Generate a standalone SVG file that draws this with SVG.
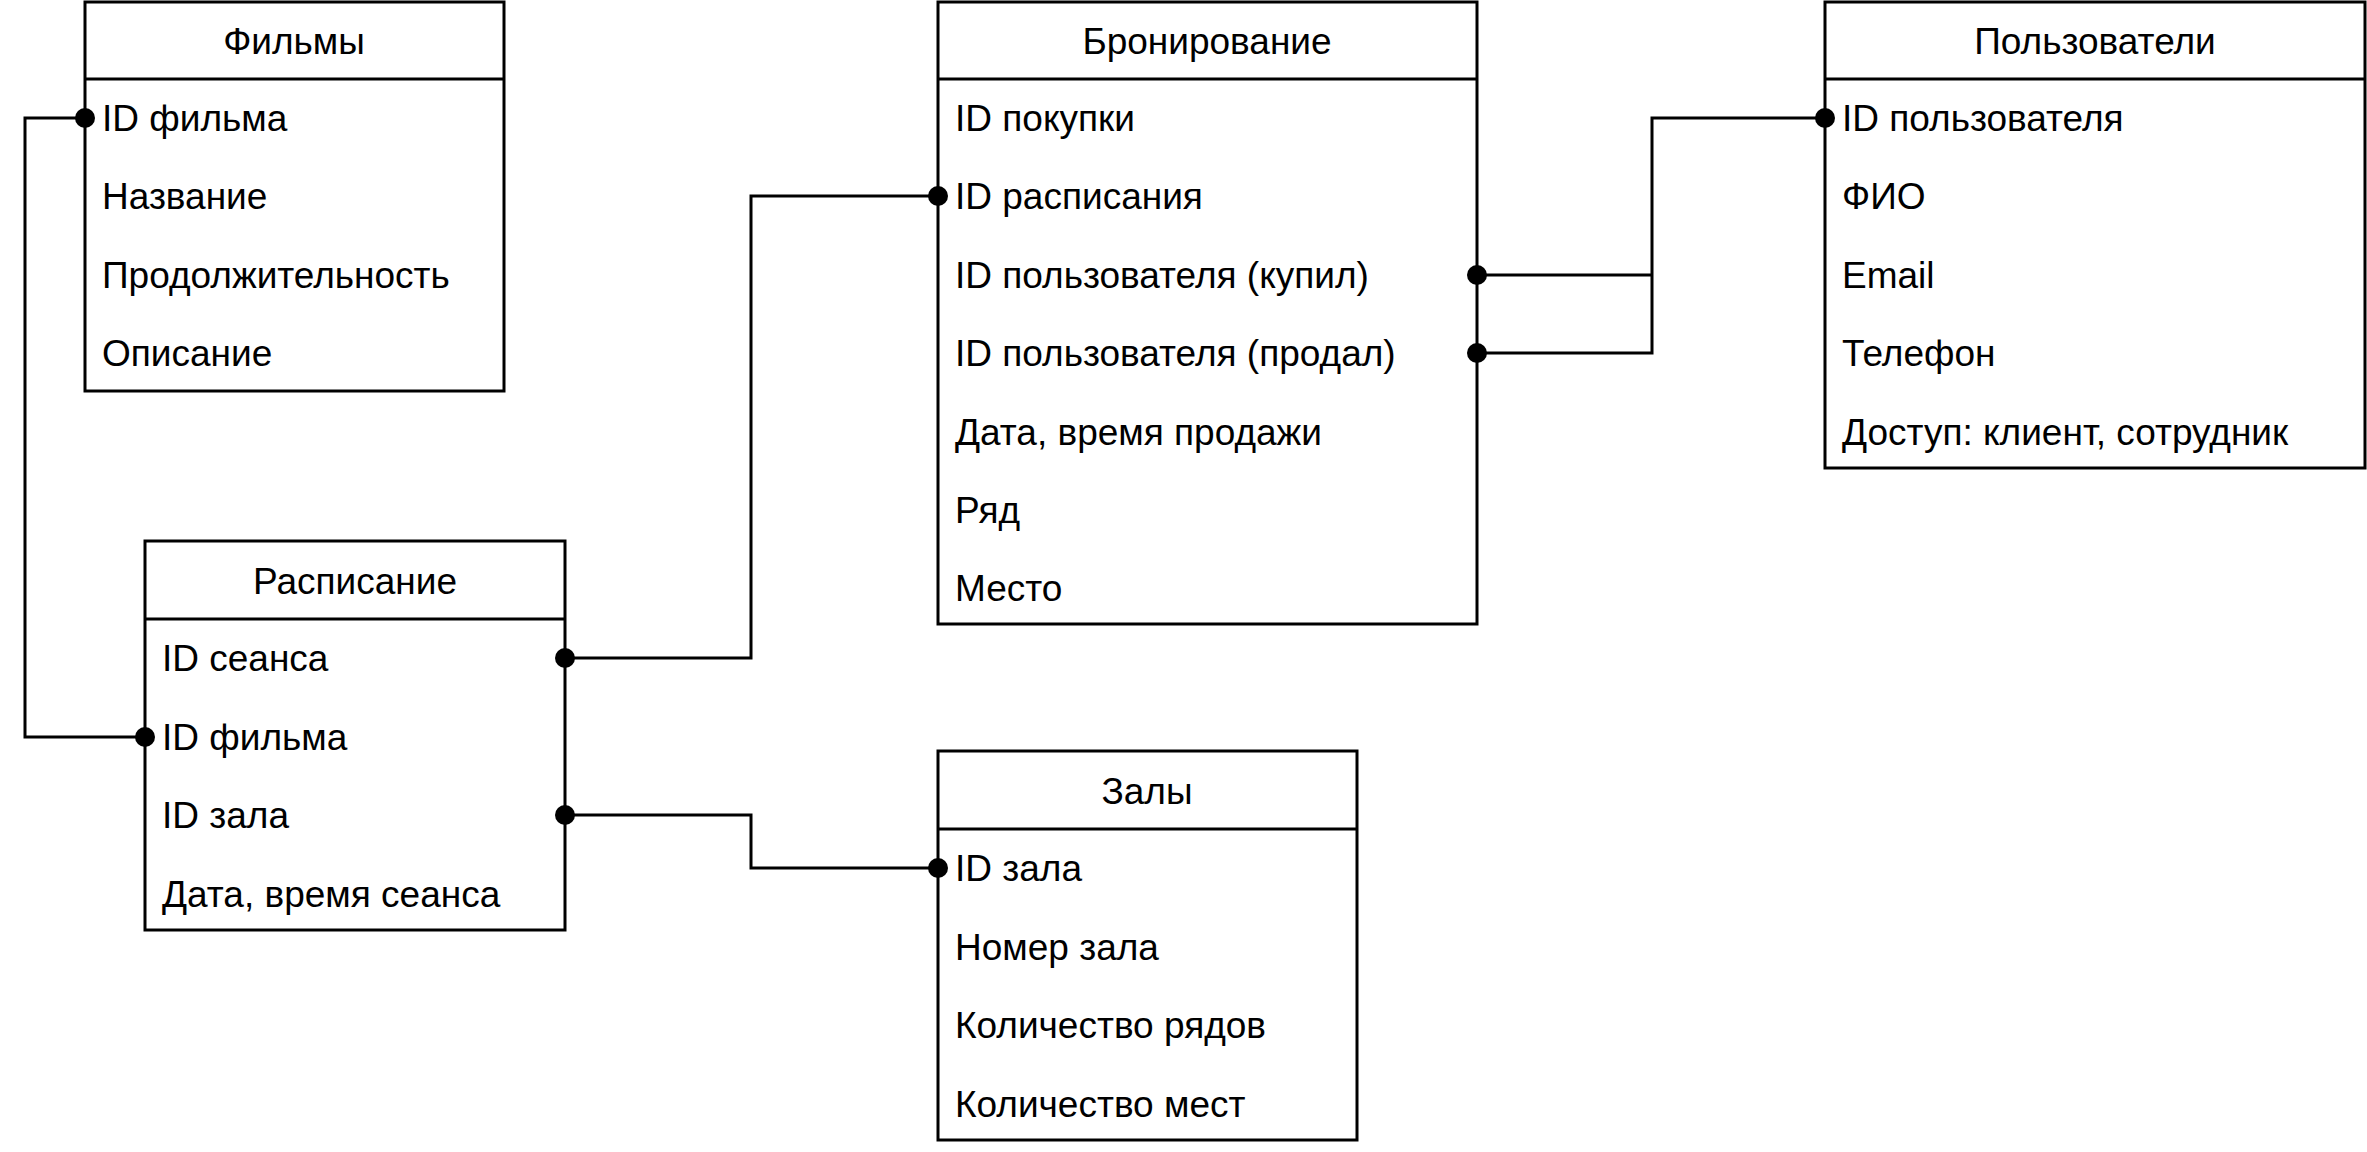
<svg xmlns="http://www.w3.org/2000/svg" width="2367" height="1152" viewBox="0 0 2367 1152">
<style>
rect{fill:#fff;stroke:#000;stroke-width:3}
.h{stroke:#000;stroke-width:3}
text{font-family:"Liberation Sans",Arial,sans-serif;font-size:37px;fill:#000}
.t{text-anchor:middle}
.c{fill:none;stroke:#000;stroke-width:3}
circle{fill:#000}
</style>
<rect x="0" y="0" width="2367" height="1152" style="stroke:none"/>
<g id="films">
<rect x="85" y="2" width="419" height="389"/><line class="h" x1="85" y1="79" x2="504" y2="79"/>
<text class="t" x="294" y="54">Фильмы</text>
<text x="102" y="131">ID фильма</text><text x="102" y="209">Название</text><text x="102" y="288">Продолжительность</text><text x="102" y="366">Описание</text>
</g>
<g id="schedule">
<rect x="145" y="541" width="420" height="389"/><line class="h" x1="145" y1="619" x2="565" y2="619"/>
<text class="t" x="355" y="594">Расписание</text>
<text x="162" y="671">ID сеанса</text><text x="162" y="750">ID фильма</text><text x="162" y="828">ID зала</text><text x="162" y="907">Дата, время сеанса</text>
</g>
<g id="booking">
<rect x="938" y="2" width="539" height="622"/><line class="h" x1="938" y1="79" x2="1477" y2="79"/>
<text class="t" x="1207" y="54">Бронирование</text>
<text x="955" y="131">ID покупки</text><text x="955" y="209">ID расписания</text><text x="955" y="288">ID пользователя (купил)</text><text x="955" y="366">ID пользователя (продал)</text><text x="955" y="445">Дата, время продажи</text><text x="955" y="523">Ряд</text><text x="955" y="601">Место</text>
</g>
<g id="users">
<rect x="1825" y="2" width="540" height="466"/><line class="h" x1="1825" y1="79" x2="2365" y2="79"/>
<text class="t" x="2095" y="54">Пользователи</text>
<text x="1842" y="131">ID пользователя</text><text x="1842" y="209">ФИО</text><text x="1842" y="288">Email</text><text x="1842" y="366">Телефон</text><text x="1842" y="445">Доступ: клиент, сотрудник</text>
</g>
<g id="halls">
<rect x="938" y="751" width="419" height="389"/><line class="h" x1="938" y1="829" x2="1357" y2="829"/>
<text class="t" x="1147" y="804">Залы</text>
<text x="955" y="881">ID зала</text><text x="955" y="960">Номер зала</text><text x="955" y="1038">Количество рядов</text><text x="955" y="1117">Количество мест</text>
</g>
<g id="connectors">
<path class="c" d="M85,118 H25 V737 H145"/>
<path class="c" d="M565,658 H751 V196 H938"/>
<path class="c" d="M565,815 H751 V868 H938"/>
<path class="c" d="M1477,275 H1652 V118 H1825 M1477,353 H1652 V275"/>
<circle cx="85" cy="118" r="10"/><circle cx="145" cy="737" r="10"/>
<circle cx="565" cy="658" r="10"/><circle cx="938" cy="196" r="10"/>
<circle cx="565" cy="815" r="10"/><circle cx="938" cy="868" r="10"/>
<circle cx="1477" cy="275" r="10"/><circle cx="1477" cy="353" r="10"/><circle cx="1825" cy="118" r="10"/>
</g>
</svg>
